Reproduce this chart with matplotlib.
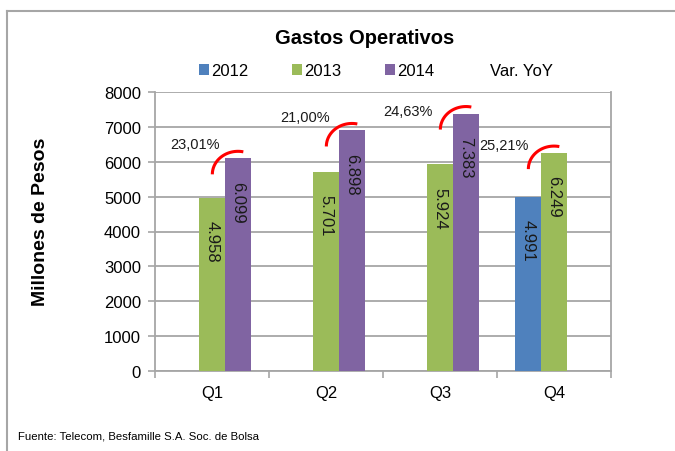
import matplotlib
matplotlib.use("Agg")
import matplotlib.pyplot as plt
from matplotlib.patches import Patch
from matplotlib.lines import Line2D
import numpy as np

plt.rcParams['font.family'] = ['Liberation Sans', 'DejaVu Sans']

categories = ["Q1", "Q2", "Q3", "Q4"]
series_names = ["2012", "2013", "2014"]
v2012 = [None, None, None, 4991]
v2013 = [4958, 5701, 5924, 6249]
v2014 = [6099, 6898, 7383, None]
yoy_labels = ["23,01%", "21,00%", "24,63%", "25,21%"]
yticks = [0, 1000, 2000, 3000, 4000, 5000, 6000, 7000, 8000]

colors = ["#4F81BD", "#9BBB59", "#8064A2"]
arc_color = "#FF0000"
grid_color = "#A6A6A6"

W, H = 675, 452
fig = plt.figure(figsize=(W / 100, H / 100), dpi=100)
ax = fig.add_axes([155 / W, 1 - 372 / H, (611 - 155) / W, (372 - 93) / H])

bw = 0.228
offsets = [-bw, 0, bw]
x = np.arange(len(categories))
for s, (vals, off, col) in enumerate(zip([v2012, v2013, v2014], offsets, colors)):
    for i, v in enumerate(vals):
        if v is None:
            continue
        ax.bar(x[i] + off, v, width=bw, color=col, zorder=3)
        ax.annotate(f"{v:,}".replace(",", "."), (x[i] + off, v), xytext=(0, -16),
                    textcoords="offset points", rotation=-90, ha="center", va="top",
                    fontsize=12, color="#1a1a1a", zorder=4)

top_bar = []  # (x, value) of the highest bar in each category
for i in range(len(categories)):
    cands = [(x[i] + off, vals[i]) for vals, off in zip([v2012, v2013, v2014], offsets)
             if vals[i] is not None]
    top_bar.append(cands[-1])

# YoY arcs and labels
t = np.deg2rad(np.linspace(78, 180, 40))
rx, ry, drop = 0.225, 660, 460
label_off = [(-13, 10), (-16, 10), (-24, 2), (-18, 6)]
for i, (bx, bv) in enumerate(top_bar):
    ax.plot(bx + rx * np.cos(t), bv - drop + ry * np.sin(t), color=arc_color, lw=2.2,
            zorder=5, solid_capstyle="butt")
    dx, dy = label_off[i]
    ax.annotate(yoy_labels[i], (bx, bv), xytext=(dx, dy), textcoords="offset points",
                ha="right", va="center", fontsize=10.5, color="#1a1a1a", zorder=5)

ax.set_xlim(-0.5, 3.5)
ax.set_ylim(0, 8000)
ax.set_yticks(yticks)
ax.set_yticklabels([str(tk) for tk in yticks], fontsize=12)
ax.yaxis.grid(True, color=grid_color, lw=1.3, zorder=0)
ax.set_xticks(x)
ax.set_xticklabels(categories, fontsize=12)
ax.set_xticks(np.arange(-0.5, 4.0, 1.0), minor=True)
ax.tick_params(axis="x", which="major", length=0, pad=10)
ax.tick_params(axis="x", which="minor", length=5, color=grid_color, width=1.2)
ax.tick_params(axis="y", length=5, color=grid_color, width=1.2, pad=5)
for side in ["left", "bottom", "right"]:
    ax.spines[side].set_color(grid_color)
    ax.spines[side].set_linewidth(1.3)
ax.spines["top"].set_visible(False)
ax.set_axisbelow(True)

fig.text(41 / W, 1 - 222 / H, "Millones de Pesos", rotation=90, ha="center", va="center",
         fontsize=14, fontweight="bold")
fig.text(365 / W, 1 - 38 / H, "Gastos Operativos", ha="center", va="center",
         fontsize=14.5, fontweight="bold")

handles = [Patch(facecolor=c, edgecolor="none") for c in colors]
handles.append(Line2D([], [], color="none"))
fig.legend(handles, series_names + ["Var. YoY"], loc="center", ncol=4,
           bbox_to_anchor=(376 / W, 1 - 72 / H), frameon=False, fontsize=12,
           handlelength=0.6, handleheight=0.6, handletextpad=0.15, columnspacing=2.6)

fig.text(18 / W, 1 - 437 / H, "Fuente: Telecom, Besfamille S.A. Soc. de Bolsa",
         ha="left", va="center", fontsize=8.2)

# outer frame
fig.add_artist(Line2D([7 / W, 7 / W], [0, 1 - 12 / H], color=grid_color, lw=1.5,
                      transform=fig.transFigure))
fig.add_artist(Line2D([7 / W, 1], [1 - 12 / H, 1 - 12 / H], color=grid_color, lw=1.5,
                      transform=fig.transFigure))

fig.savefig("out.png", dpi=100)
